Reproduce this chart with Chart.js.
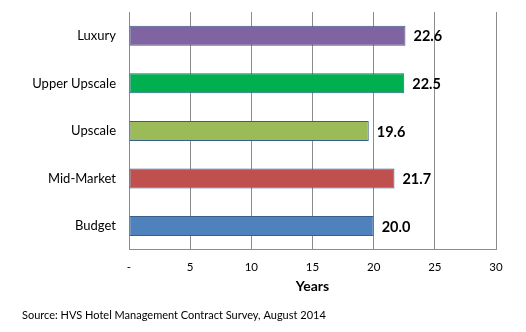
<!DOCTYPE html>
<html>
<head>
<meta charset="utf-8">
<script src="https://cdn.jsdelivr.net/npm/chart.js@4"></script>
<style>
  html, body { margin: 0; padding: 0; background: #ffffff; }
  #wrap { width: 526px; height: 332px; }
</style>
</head>
<body>
<div id="wrap"><canvas id="c" width="526" height="332"></canvas></div>
<script>
// Average remaining contract term by hotel segment
const categories = ['Luxury', 'Upper Upscale', 'Upscale', 'Mid-Market', 'Budget'];
const years = [22.6, 22.5, 19.6, 21.7, 20.0];
const barColors = ['#8064A2', '#00B050', '#9BBB59', '#C0504D', '#4F81BD'];
const xTicks = [0, 5, 10, 15, 20, 25, 30];

const FONT = 'Lato, "Open Sans", sans-serif';

// Bold value label just past the end of each bar
const valueLabels = {
  id: 'valueLabels',
  afterDatasetsDraw(chart) {
    const ctx = chart.ctx;
    const meta = chart.getDatasetMeta(0);
    ctx.save();
    ctx.font = 'bold 14.5px ' + FONT;
    ctx.fillStyle = '#000000';
    ctx.textAlign = 'left';
    ctx.textBaseline = 'middle';
    meta.data.forEach((bar, i) => {
      ctx.fillText(years[i].toFixed(1), bar.x + 8, bar.y + 1);
    });
    ctx.restore();
  }
};

new Chart(document.getElementById('c'), {
  type: 'bar',
  data: {
    labels: categories,
    datasets: [{
      data: years,
      backgroundColor: barColors,
      borderColor: '#3A5E8C',
      borderWidth: 1,
      borderSkipped: false,
      categoryPercentage: 1,
      barPercentage: 0.42
    }]
  },
  options: {
    indexAxis: 'y',
    responsive: false,
    animation: false,
    layout: { padding: { left: 22, right: 30, top: 12, bottom: 0 } },
    plugins: {
      legend: { display: false },
      tooltip: { enabled: false },
      title: {
        display: true,
        position: 'bottom',
        align: 'start',
        text: 'Source: HVS Hotel Management Contract Survey, August 2014',
        color: '#000000',
        font: { family: FONT, size: 11, weight: 'normal' },
        padding: { top: 9, bottom: 10 }
      }
    },
    scales: {
      x: {
        min: 0,
        max: 30,
        afterBuildTicks(scale) { scale.ticks = xTicks.map(v => ({ value: v })); },
        afterFit(scale) { scale.height = 50; },
        grid: { color: '#8C8C8C', lineWidth: 1, drawTicks: false },
        border: { color: '#8C8C8C', width: 1 },
        ticks: {
          padding: 11,
          color: '#000000',
          font: { family: FONT, size: 11.5 },
          callback: v => (v === 0 ? '-' : String(v))
        },
        title: {
          display: true,
          text: 'Years',
          color: '#000000',
          font: { family: FONT, size: 14, weight: 'bold' },
          padding: { top: 0, bottom: 5 }
        }
      },
      y: {
        afterFit(scale) {
          scale.width = 107;
          scale.paddingTop = 0;
          scale.paddingBottom = 0;
        },
        grid: { display: false, drawTicks: false },
        border: { color: '#8C8C8C', width: 1 },
        ticks: {
          padding: 13,
          color: '#000000',
          font: { family: FONT, size: 13 }
        }
      }
    }
  },
  plugins: [valueLabels]
});
</script>
</body>
</html>
